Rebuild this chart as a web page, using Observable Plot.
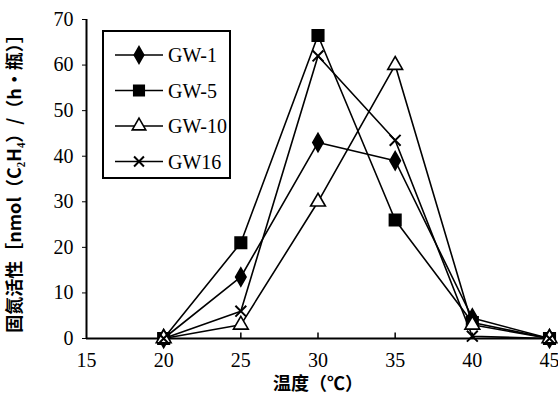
<!DOCTYPE html>
<html><head><meta charset="utf-8">
<script src="https://cdn.jsdelivr.net/npm/d3@7"></script>
<script src="https://cdn.jsdelivr.net/npm/@observablehq/plot@0.6"></script>
<style>
body{margin:0;background:#fff}
</style>
</head><body><div id="chart"></div>
<script>
const temps = [20, 25, 30, 35, 40, 45];
const seriesNames = ["GW-1", "GW-5", "GW-10", "GW16"];
const gw1 = [0, 13.5, 43, 39, 4.5, 0];
const gw5 = [0, 21, 66.5, 26, 3.5, 0];
const gw10 = [0, 3, 30, 60, 3, 0];
const gw16 = [0, 6, 62, 43.5, 0.5, 0];
const xTicks = [15, 20, 25, 30, 35, 40, 45];
const yTicks = [0, 10, 20, 30, 40, 50, 60, 70];

const symbols = {"GW-1": "diamond", "GW-5": "square", "GW-10": "triangle", "GW16": "times"};
const fills = {"GW-1": "black", "GW-5": "black", "GW-10": "white", "GW16": "none"};
const sizes = {"GW-1": 5.5, "GW-5": 6.5, "GW-10": 5.5, "GW16": 5};
const all = [gw1, gw5, gw10, gw16];
const data = [];
seriesNames.forEach((s, i) => temps.forEach((t, j) => data.push({series: s, t, v: all[i][j]})));

const serif = "Liberation Serif";
const cjk = "Noto Sans CJK SC";
const plot = Plot.plot({
  width: 558, height: 409,
  marginLeft: 86, marginRight: 9, marginTop: 19, marginBottom: 71,
  style: {fontFamily: serif, fontSize: "20px", color: "black", background: "white"},
  x: {domain: [15, 45], ticks: xTicks},
  y: {domain: [0, 70], ticks: yTicks},
  marks: [
    Plot.axisX({ticks: xTicks, tickSize: 0, tickPadding: 14, label: null, fontSize: 20}),
    Plot.axisY({ticks: yTicks, tickSize: 4, tickPadding: 9, label: null, fontSize: 20}),
    Plot.text(["温度（℃）"], {frameAnchor: "bottom", dy: 51, text: d => d, fontFamily: cjk, fontSize: 18, fontWeight: "bold"}),
    Plot.text(["固氮活性［nmol（C₂H₄）/（h・瓶）］"], {frameAnchor: "left", textAnchor: "middle", dx: -71, rotate: -90, text: d => d, fontFamily: cjk, fontSize: 18, fontWeight: "bold"}),
    Plot.ruleX(xTicks.slice(1, -1), {x: d => d, y1: 0, y2: 1.2, stroke: "black", strokeWidth: 1.5}),
    Plot.ruleX([15], {stroke: "black", strokeWidth: 2}),
    Plot.ruleY([0], {stroke: "black", strokeWidth: 2}),
    Plot.line(data, {x: "t", y: "v", z: "series", stroke: "black", strokeWidth: 1.6}),
    ...seriesNames.map(s => Plot.dot(data.filter(d => d.series === s), {
      x: "t", y: "v", symbol: () => symbols[s], r: sizes[s],
      fill: fills[s], stroke: "black", strokeWidth: s === "GW16" ? 2 : 1.6
    }))
  ]
});
const svg = d3.select(plot);
svg.selectAll("g[aria-label='x-axis tick label'] text, g[aria-label='y-axis tick label'] text")
  .attr("font-family", serif).style("font-family", serif);
document.getElementById("chart").append(plot);

// legend
const lg = svg.append("g").attr("font-size", 20).attr("text-anchor", "start").attr("font-family", serif);
lg.append("rect").attr("x", 103).attr("y", 31).attr("width", 127).attr("height", 147)
  .attr("fill", "white").attr("stroke", "black").attr("stroke-width", 2);
const symMap = {"diamond": d3.symbolDiamond, "square": d3.symbolSquare, "triangle": d3.symbolTriangle, "times": d3.symbolTimes};
seriesNames.forEach((s, i) => {
  const y = 55 + i * 35.5;
  lg.append("line").attr("x1", 115).attr("x2", 163).attr("y1", y).attr("y2", y).attr("stroke", "black").attr("stroke-width", 1.6);
  const sym = d3.symbol(symMap[symbols[s]], Math.PI * sizes[s] * sizes[s] / 1.2);
  lg.append("path").attr("d", sym()).attr("transform", `translate(139,${y})`)
    .attr("fill", fills[s]).attr("stroke", "black").attr("stroke-width", s === "GW16" ? 2 : 1.6);
  lg.append("text").attr("x", 168).attr("y", y + 7).style("font-family", serif).text(s);
});
</script></body></html>
